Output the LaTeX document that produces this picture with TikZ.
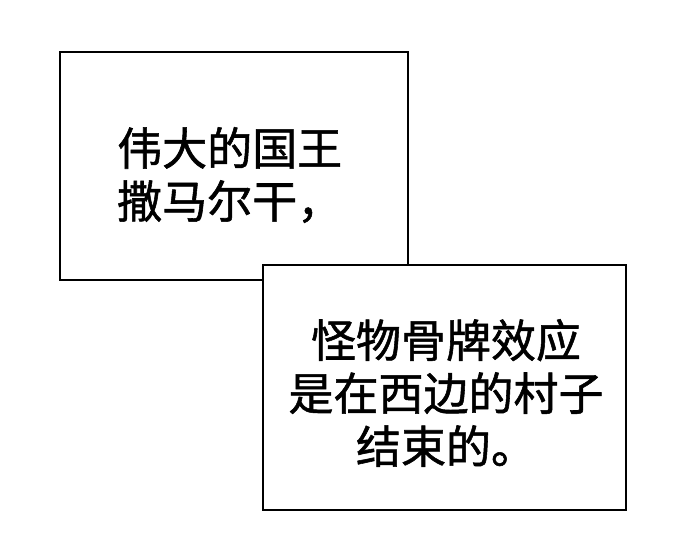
\documentclass[tikz,border=0pt]{standalone}
\usepackage{fontspec}
\newfontfamily\cjk[FakeBold=1.2]{Noto Sans CJK SC}
\begin{document}
\begin{tikzpicture}[x=1pt,y=-1pt,
  bubble/.style={draw=black,line width=1.3pt,fill=white},
  txt/.style={font=\cjk\fontsize{45}{53}\selectfont}]
\useasboundingbox (0,0) rectangle (690,539);
\fill[white] (0,0) rectangle (690,539);
\draw[bubble] (60,52) rectangle (408,280);
\draw[bubble] (263,265) rectangle (626,510);
\node[txt,align=left,anchor=west,inner sep=0] (t1) at (117,175) {伟大的国王\\撒马尔干，};
\node[txt,align=center] (t2) at (446,393) {怪物骨牌效应\\是在西边的村子\\结束的。};
\end{tikzpicture}
\end{document}
